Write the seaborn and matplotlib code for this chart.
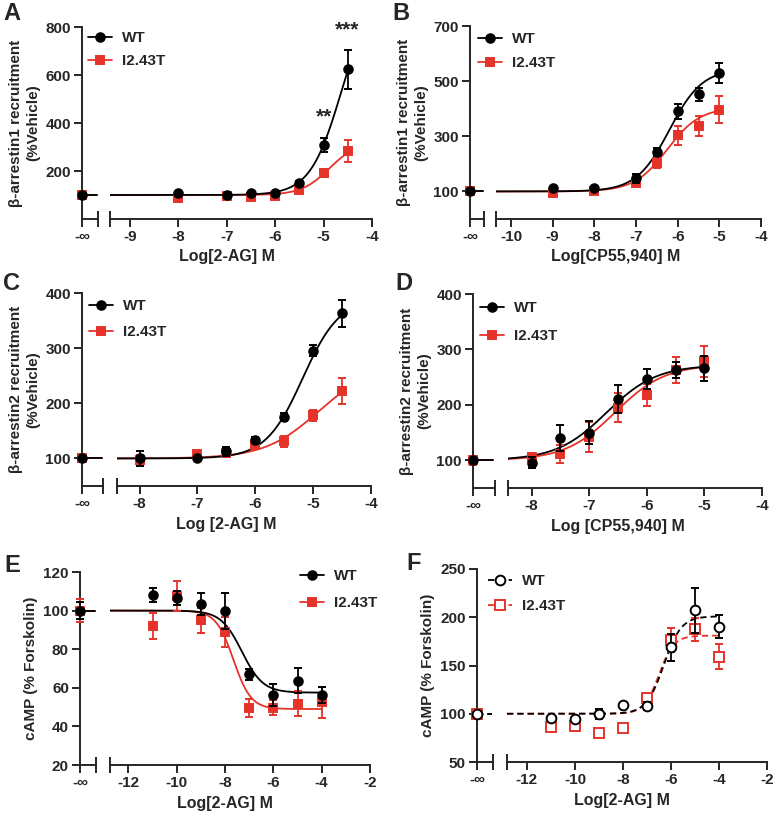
import numpy as np
import pandas as pd
import matplotlib
matplotlib.use('Agg')
import matplotlib.pyplot as plt
from matplotlib.lines import Line2D
import seaborn as sns

sns.set_theme(style='ticks')
plt.rcParams['font.family'] = ['Liberation Sans', 'DejaVu Sans']
plt.rcParams['font.weight'] = 'bold'
plt.rcParams['axes.labelweight'] = 'bold'
plt.rcParams['axes.unicode_minus'] = False
plt.rcParams['lines.dashed_pattern'] = [3.5, 2.2]

RED = '#e6332a'
series_names = ['WT', 'I2.43T']

# fit parameters: [value at -inf, value at +inf, logEC50, hill]
# A: beta-arrestin1, 2-AG
a_x = [-8, -7, -6.5, -6, -5.5, -5, -4.5]
a_wt = [108, 99, 109, 110, 152, 308, 623]
a_wt_err = [4, 3, 4, 4, 5, 30, 81]
a_mut = [86, 94, 91, 94, 121, 190, 283]
a_mut_err = [5, 4, 4, 5, 6, 14, 45]
a_fit_wt = [100, 965, -4.63, 1.34]
a_fit_mut = [100, 322, -4.88, 1.51]

# B: beta-arrestin1, CP55,940
b_x = [-9, -8, -7, -6.5, -6, -5.5, -5]
b_wt = [112, 112, 148, 243, 391, 452, 528]
b_wt_err = [4, 4, 17, 16, 27, 24, 36]
b_mut = [95, 100, 130, 204, 304, 336, 397]
b_mut_err = [4, 4, 8, 18, 35, 36, 50]
b_fit_wt = [100, 545, -6.2, 1.1]
b_fit_mut = [100, 405, -6.25, 1.1]

# C: beta-arrestin2, 2-AG
c_x = [-8, -7, -6.5, -6, -5.5, -5, -4.5]
c_wt = [100, 100, 113, 133, 175, 295, 363]
c_wt_err = [13, 3, 8, 5, 8, 10, 25]
c_mut = [98, 108, 110, 125, 131, 178, 222]
c_mut_err = [8, 4, 8, 6, 10, 10, 24]
c_fit_wt = [100, 391, -5.18, 1.36]
c_fit_mut = [100, 270, -4.91, 0.93]

# D: beta-arrestin2, CP55,940
d_x = [-8, -7.5, -7, -6.5, -6, -5.5, -5]
d_wt = [96, 140, 150, 210, 247, 263, 266]
d_wt_err = [10, 24, 20, 25, 18, 14, 23]
d_mut = [106, 112, 142, 195, 218, 263, 279]
d_mut_err = [5, 16, 27, 26, 20, 23, 28]
d_fit_wt = [100, 272, -6.7, 1.0]
d_fit_mut = [100, 273, -6.55, 1.0]

# E: cAMP, 2-AG
e_x = [-11, -10, -9, -8, -7, -6, -5, -4]
e_wt = [108.2, 106.5, 103.4, 99.6, 67, 56.3, 63.7, 56.3]
e_wt_err = [3.6, 3.5, 5.6, 9.3, 3, 5.5, 6.5, 4]
e_mut = [92.1, 107.4, 94.9, 88.9, 49.7, 49.7, 51.7, 52.6]
e_mut_err = [6.6, 7.8, 6.7, 7.8, 4.6, 4, 6.5, 8]
e_fit_wt = [100, 57.5, -7.3, 1.0]
e_fit_mut = [100, 49, -7.65, 1.2]

# F: cAMP, 2-AG (open symbols)
f_x = [-11, -10, -9, -8, -7, -6, -5, -4]
f_wt = [95.1, 95, 99.5, 108.9, 107.8, 168.9, 207, 190.3]
f_wt_err = [2, 2, 5, 2, 4, 14, 23, 12]
f_mut = [85.8, 87, 80.5, 85.3, 115.9, 176.5, 187.6, 159]
f_mut_err = [2, 2, 2, 2, 5, 12, 12, 13]
f_fit_wt = [100, 201, -6.3, 1.2]
f_fit_mut = [100, 181, -6.5, 1.4]

# vehicle (-inf) points, panels A..F
veh_wt = [100, 100, 100, 100, 100, 100]
veh_wt_err = [0, 0, 0, 3, 4.6, 0]
veh_mut = [100, 100, 100, 100, 100, 100]
veh_mut_err = [0, 0, 0, 8, 5.8, 0]

W, H = 777, 822
fig = plt.figure(figsize=(W / 100, H / 100), dpi=100)


def px_axes(x0, x1, top, bottom):
    return fig.add_axes([x0 / W, 1 - bottom / H, (x1 - x0) / W, (bottom - top) / H])


def fit_curve(p, xs):
    lo, hi, c, h = p
    return lo + (hi - lo) / (1 + 10 ** ((c - xs) * h))


def draw_panel(i, letter, x, wt, wt_err, mut, mut_err, fit_wt, fit_mut, ylim, yticks,
               xticks, xmin, ylabel, xlabel, box, legend_at, letter_at, spacing,
               open_marks=False):
    inf0, inf1, main0, main1, top, bottom = box
    ax0 = px_axes(inf0, inf1, top, bottom)
    ax1 = px_axes(main0, main1, top, bottom)
    ls = '--' if open_marks else '-'
    styles = [
        dict(color='black', marker='o', ms=7 if open_marks else 6.2),
        dict(color=RED, marker='s', ms=6.5 if open_marks else 5.8),
    ]
    series = [(wt, wt_err, fit_wt, veh_wt[i], veh_wt_err[i]),
              (mut, mut_err, fit_mut, veh_mut[i], veh_mut_err[i])]
    xmax = max(x)
    xs = np.linspace(xmin, xmax, 300)
    for k in [1, 0]:
        vals, errs, fit, v, ve = series[k]
        st = styles[k]
        curve = pd.DataFrame({'logc': xs, 'resp': fit_curve(fit, xs)})
        sns.lineplot(data=curve, x='logc', y='resp', ax=ax1, color=st['color'],
                     lw=1.3, linestyle=ls, estimator=None, sort=False, zorder=2)
        ax0.plot([0, 0.93], [fit[0], fit[0]], color=st['color'], lw=1.3, ls=ls, zorder=2)
        mfc = 'white' if open_marks else st['color']
        for ax, px, py, pe in [(ax1, x, vals, errs), (ax0, [0], [v], [ve])]:
            ax.errorbar(px, py, yerr=pe, fmt=st['marker'], ms=st['ms'], mfc=mfc,
                        mec=st['color'], mew=1.4, ecolor=st['color'], elinewidth=1.3,
                        capsize=3.2, capthick=1.3, clip_on=False, zorder=3 + (1 - k))

    for ax in (ax0, ax1):
        ax.set_ylim(*ylim)
        ax.set_xlabel('')
        ax.set_ylabel('')
        ax.spines['top'].set_visible(False)
        ax.spines['right'].set_visible(False)
        ax.spines['bottom'].set_linewidth(1.4)
        ax.tick_params(which='major', direction='out', length=5.5, width=1.4,
                       labelsize=11, pad=2.5)
        ax.tick_params(which='minor', direction='inout', length=11, width=1.4)
    ax0.set_xlim(0, 1)
    ax0.set_xticks([0])
    ax0.set_xticklabels(['-\u221e'])
    ax0.set_xticks([1], minor=True)
    ax0.set_yticks(yticks)
    ax0.set_yticklabels([str(t) for t in yticks], fontweight='bold')
    ax0.spines['left'].set_linewidth(1.4)
    ax0.set_ylabel(ylabel, fontsize=11, fontweight='bold', labelpad=4, linespacing=1.25)

    ax1.set_xlim(xmin, xticks[-1])
    ax1.set_xticks(xticks)
    ax1.set_xticklabels([str(t) for t in xticks], fontweight='bold')
    ax1.set_xticks([xmin], minor=True)
    ax1.spines['left'].set_visible(False)
    ax1.tick_params(axis='y', left=False, labelleft=False)
    ax1.tick_params(axis='x', which='minor', labelbottom=False)

    fig.text((inf0 + main1) / 2 / W, 1 - (bottom + 38) / H, xlabel, ha='center',
             va='center', fontsize=11.5, fontweight='bold')
    fig.text(letter_at[0] / W, 1 - letter_at[1] / H, letter, ha='left', va='top',
             fontsize=17, fontweight='bold')

    handles = []
    for k in [0, 1]:
        st = styles[k]
        handles.append(Line2D([0], [0], color=st['color'], lw=1.3, ls=ls, marker=st['marker'],
                              ms=st['ms'], mfc='white' if open_marks else st['color'],
                              mec=st['color'], mew=1.4))
    fig.legend(handles, series_names, loc='upper left',
               bbox_to_anchor=(legend_at[0] / W, 1 - legend_at[1] / H),
               frameon=False, borderpad=0, borderaxespad=0, handlelength=1.55,
               handletextpad=0.65, labelspacing=spacing,
               prop=dict(size=11, weight='bold'))
    return ax0, ax1


arr1 = '\u03b2-arrestin1 recruitment\n(%Vehicle)'
arr2 = '\u03b2-arrestin2 recruitment\n(%Vehicle)'
camp = 'cAMP (% Forskolin)'

axA = draw_panel(0, 'A', a_x, a_wt, a_wt_err, a_mut, a_mut_err, a_fit_wt, a_fit_mut,
                 (0, 800), [200, 400, 600, 800], [-9, -8, -7, -6, -5, -4], -9.41,
                 arr1, 'Log[2-AG] M', (82, 98, 110, 372, 27, 219), (88, 31), (3, 2), 0.62)
axA[1].text(-5.0, 427, '**', ha='center', va='center', fontsize=15, fontweight='bold')
axA[1].text(-4.52, 786, '***', ha='center', va='center', fontsize=15, fontweight='bold',
            clip_on=False)

draw_panel(1, 'B', b_x, b_wt, b_wt_err, b_mut, b_mut_err, b_fit_wt, b_fit_mut,
           (0, 700), [100, 300, 500, 700], [-10, -9, -8, -7, -6, -5, -4], -10.36,
           arr1, 'Log[CP55,940] M', (470, 484, 496, 761, 26, 219), (478, 32), (392, 2), 0.68)

draw_panel(2, 'C', c_x, c_wt, c_wt_err, c_mut, c_mut_err, c_fit_wt, c_fit_mut,
           (50, 400), [100, 200, 300, 400], [-8, -7, -6, -5, -4], -8.39,
           arr2, 'Log [2-AG] M', (82, 103, 117, 371, 293, 486), (89, 299), (3, 272), 0.8)

draw_panel(3, 'D', d_x, d_wt, d_wt_err, d_mut, d_mut_err, d_fit_wt, d_fit_mut,
           (50, 400), [100, 200, 300, 400], [-8, -7, -6, -5, -4], -8.41,
           arr2, 'Log [CP55,940] M', (473, 495, 508, 762, 294, 488), (480, 301), (395, 272),
           0.92)

draw_panel(4, 'E', e_x, e_wt, e_wt_err, e_mut, e_mut_err, e_fit_wt, e_fit_mut,
           (20, 120), [20, 40, 60, 80, 100, 120], [-12, -10, -8, -6, -4, -2], -12.76,
           camp, 'Log[2-AG] M', (80, 96, 110, 370, 572, 765), (300, 569), (4, 554), 0.88)

draw_panel(5, 'F', f_x, f_wt, f_wt_err, f_mut, f_mut_err, f_fit_wt, f_fit_mut,
           (50, 250), [50, 100, 150, 200, 250], [-12, -10, -8, -6, -4, -2], -12.83,
           camp, 'Log[2-AG] M', (477, 493, 507, 767, 569, 762), (488, 574), (406, 552),
           0.75, open_marks=True)

fig.savefig('out.png', dpi=100)
